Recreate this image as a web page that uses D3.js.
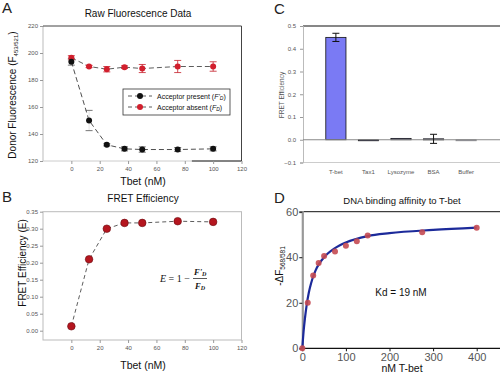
<!DOCTYPE html>
<html>
<head>
<meta charset="utf-8">
<script src="https://cdn.jsdelivr.net/npm/d3@7"></script>
<style>
  body { margin: 0; background: #fff; }
  svg { display: block; font-family: "Liberation Sans", Arial, sans-serif; }
  .tick text { fill: #555; }
</style>
</head>
<body>
<div id="chart"></div>
<script>
// Panel A data: raw donor fluorescence
var tbetConc = [0, 12.5, 25, 37.5, 50, 75, 100];
var presentVals = [193.5, 150, 132, 129, 128.5, 128.5, 129];
var presentErr = [2.5, 7.5, 0.8, 1.5, 2, 1.5, 1.5];
var absentVals = [196.5, 190, 188, 189.5, 188.5, 190, 190];
var absentErr = [1.5, 0.8, 2, 1, 3, 4.5, 3.5];

// Panel B data: FRET efficiency
var fretVals = [0.013, 0.21, 0.30, 0.317, 0.317, 0.322, 0.32];

// Panel C data: specificity bars
var proteins = ["T-bet", "Tax1", "Lysozyme", "BSA", "Buffer"];
var specVals = [0.45, -0.002, 0.006, 0.004, -0.004];
var specErr = [0.018, 0, 0, 0.02, 0];

// Panel D data: binding curve
var bindConc = [0, 12.5, 25, 37.5, 50, 75, 100, 125, 150, 275, 400];
var bindVals = [0, 20, 32, 37.5, 40.5, 42.5, 45, 47, 49.5, 51, 53];
var fitConc = [0, 3, 6, 10, 15, 20, 30, 40, 50, 75, 100, 150, 200, 300, 400];
var fitVals = [0, 7.5, 13, 19, 24.5, 28.5, 34, 37.5, 40, 44, 46.5, 49.3, 50.6, 52, 53];

var xTicks = [0, 20, 40, 60, 80, 100, 120];

var svg = d3.select("#chart")
  .append("svg")
  .attr("width", 500)
  .attr("height", 373);

// helper for panel letters
function letter(x, y, t) {
  svg.append("text")
    .attr("x", x).attr("y", y)
    .attr("font-size", "15px")
    .attr("fill", "#222")
    .text(t);
}

// ---------- Panel A ----------
var xA = d3.scaleLinear().domain([-20, 120]).range([43, 241.5]);
var yA = d3.scaleLinear().domain([120, 220]).range([161, 26]);

letter(2, 13, "A");
svg.append("text")
  .attr("x", 138).attr("y", 17)
  .attr("text-anchor", "middle")
  .attr("font-size", "10px")
  .attr("fill", "#111")
  .text("Raw Fluorescence Data");

// frame
svg.append("line").attr("x1", 43).attr("x2", 43).attr("y1", 26).attr("y2", 161).attr("stroke", "#bbb");
svg.append("line").attr("x1", 43).attr("x2", 241.5).attr("y1", 161).attr("y2", 161).attr("stroke", "#ccc");
svg.append("line").attr("x1", 43).attr("x2", 241.5).attr("y1", 26).attr("y2", 26).attr("stroke", "#444");
svg.append("line").attr("x1", 241.5).attr("x2", 241.5).attr("y1", 26).attr("y2", 161).attr("stroke", "#444");
svg.append("line").attr("x1", xA(85)).attr("x2", 241.5).attr("y1", 161).attr("y2", 161).attr("stroke", "#222");

var xAxisA = svg.append("g")
  .attr("transform", "translate(0,161)")
  .call(d3.axisBottom(xA).tickValues(xTicks).tickSize(3).tickPadding(3));
var yAxisA = svg.append("g")
  .attr("transform", "translate(43,0)")
  .call(d3.axisLeft(yA).tickValues([120, 140, 160, 180, 200, 220]).tickSize(3).tickPadding(2));
[xAxisA, yAxisA].forEach(function(g) {
  g.select(".domain").remove();
  g.selectAll(".tick line").attr("stroke", "#999");
  g.selectAll(".tick text").attr("font-size", "6px");
});

var lineA = d3.line().x((d, i) => xA(tbetConc[i])).y(d => yA(d));

svg.append("path")
  .attr("d", lineA(absentVals))
  .attr("fill", "none").attr("stroke", "#333").attr("stroke-width", 0.8)
  .attr("stroke-dasharray", "5,3");
svg.append("path")
  .attr("d", lineA(presentVals))
  .attr("fill", "none").attr("stroke", "#222").attr("stroke-width", 0.8)
  .attr("stroke-dasharray", "5,3");

// error bars: caps plus a stem
function errBars(vals, errs, color, stem) {
  vals.forEach(function(v, i) {
    if (!errs[i]) return;
    var x = xA(tbetConc[i]);
    svg.append("line").attr("x1", x).attr("x2", x)
      .attr("y1", yA(v - errs[i])).attr("y2", yA(v + errs[i]))
      .attr("stroke", stem).attr("stroke-width", 0.8);
    [v - errs[i], v + errs[i]].forEach(function(e) {
      svg.append("line").attr("x1", x - 3.5).attr("x2", x + 3.5)
        .attr("y1", yA(e)).attr("y2", yA(e))
        .attr("stroke", color).attr("stroke-width", 0.8);
    });
  });
}
errBars(absentVals, absentErr, "#c41e2a", "#c41e2a");
errBars(presentVals, presentErr, "#555", "#ddd");

svg.selectAll(".absentDot")
  .data(absentVals).enter()
  .append("circle")
  .attr("cx", (d, i) => xA(tbetConc[i]))
  .attr("cy", d => yA(d))
  .attr("r", 3)
  .attr("fill", "#d21f2d");
svg.selectAll(".presentDot")
  .data(presentVals).enter()
  .append("circle")
  .attr("cx", (d, i) => xA(tbetConc[i]))
  .attr("cy", d => yA(d))
  .attr("r", 3)
  .attr("fill", "#111");

// legend
svg.append("rect").attr("x", 123).attr("y", 89).attr("width", 107).attr("height", 26)
  .attr("fill", "#fff").attr("stroke", "#333").attr("stroke-width", 0.8);
[["#111", "Acceptor present (", "F'", "D", ")"], ["#d21f2d", "Acceptor absent (", "F", "D", ")"]].forEach(function(l, i) {
  var ly = 96 + i * 11;
  svg.append("line").attr("x1", 128).attr("x2", 152).attr("y1", ly).attr("y2", ly)
    .attr("stroke", "#333").attr("stroke-width", 0.8).attr("stroke-dasharray", "4,3");
  svg.append("circle").attr("cx", 140).attr("cy", ly).attr("r", 3).attr("fill", l[0]);
  var t = svg.append("text").attr("x", 157).attr("y", ly + 2.5).attr("font-size", "7px").attr("fill", "#111");
  t.append("tspan").text(l[1]);
  t.append("tspan").attr("font-style", "italic").text(l[2]);
  t.append("tspan").attr("font-style", "italic").attr("font-size", "5px").attr("dy", 1.5).text(l[3]);
  t.append("tspan").attr("dy", -1.5).text(l[4]);
});

// axis labels A
var ylA = svg.append("text")
  .attr("transform", "translate(16,95) rotate(-90)")
  .attr("text-anchor", "middle")
  .attr("font-size", "10px").attr("fill", "#111");
ylA.append("tspan").text("Donor Fluorescence (F");
ylA.append("tspan").attr("font-size", "6px").attr("dy", 2).text("453/521");
ylA.append("tspan").attr("dy", -2).text(")");
svg.append("text").attr("x", 143).attr("y", 185).attr("text-anchor", "middle")
  .attr("font-size", "10.5px").attr("fill", "#111").text("Tbet (nM)");

// ---------- Panel B ----------
var xB = d3.scaleLinear().domain([-20, 120]).range([43, 241.5]);
var yB = d3.scaleLinear().domain([0, 0.35]).range([330.7, 211.7]);

letter(2, 202, "B");
svg.append("text").attr("x", 143).attr("y", 202).attr("text-anchor", "middle")
  .attr("font-size", "10px").attr("fill", "#111").text("FRET Efficiency");

svg.append("rect").attr("x", 43).attr("y", 211.7).attr("width", 198.5).attr("height", 128.3)
  .attr("fill", "none").attr("stroke", "#bbb");

var xAxisB = svg.append("g")
  .attr("transform", "translate(0,340)")
  .call(d3.axisBottom(xB).tickValues(xTicks).tickSize(3).tickPadding(3));
var yAxisB = svg.append("g")
  .attr("transform", "translate(43,0)")
  .call(d3.axisLeft(yB).tickValues([0, 0.05, 0.1, 0.15, 0.2, 0.25, 0.3, 0.35])
    .tickFormat(d3.format(".2f")).tickSize(3).tickPadding(2));
[xAxisB, yAxisB].forEach(function(g) {
  g.select(".domain").remove();
  g.selectAll(".tick line").attr("stroke", "#999");
  g.selectAll(".tick text").attr("font-size", "6px");
});

svg.append("path")
  .attr("d", d3.line().x((d, i) => xB(tbetConc[i])).y(d => yB(d))(fretVals))
  .attr("fill", "none").attr("stroke", "#333").attr("stroke-width", 0.8)
  .attr("stroke-dasharray", "4,3");
svg.selectAll(".fretDot")
  .data(fretVals).enter()
  .append("circle")
  .attr("cx", (d, i) => xB(tbetConc[i]))
  .attr("cy", d => yB(d))
  .attr("r", 3.8)
  .attr("fill", "#b5161f").attr("stroke", "#6a0c10").attr("stroke-width", 0.6);

svg.append("text")
  .attr("transform", "translate(26,263) rotate(-90)")
  .attr("text-anchor", "middle")
  .attr("font-size", "10px").attr("fill", "#111")
  .text("FRET Efficiency (E)");
svg.append("text").attr("x", 143).attr("y", 369).attr("text-anchor", "middle")
  .attr("font-size", "10.5px").attr("fill", "#111").text("Tbet (nM)");

// formula E = 1 - F'D / FD
var fg = svg.append("g").attr("font-family", "'Liberation Serif', serif").attr("fill", "#111");
var lhs = fg.append("text").attr("x", 160).attr("y", 282).attr("font-size", "10px");
lhs.append("tspan").attr("font-style", "italic").text("E");
lhs.append("tspan").text(" = 1 \u2212");
fg.append("line").attr("x1", 193).attr("x2", 207).attr("y1", 278.5).attr("y2", 278.5)
  .attr("stroke", "#111").attr("stroke-width", 0.7);
var num = fg.append("text").attr("x", 194).attr("y", 275).attr("font-size", "8.5px")
  .attr("font-style", "italic").attr("font-weight", "bold");
num.append("tspan").text("F'");
num.append("tspan").attr("font-size", "6px").attr("dy", 1).text("D");
var den = fg.append("text").attr("x", 195).attr("y", 288.5).attr("font-size", "8.5px")
  .attr("font-style", "italic").attr("font-weight", "bold");
den.append("tspan").text("F");
den.append("tspan").attr("font-size", "6px").attr("dy", 1).text("D");

// ---------- Panel C ----------
var xC = d3.scaleBand().domain(proteins).range([303, 499]).paddingInner(0.38).paddingOuter(0.7);
var yC = d3.scaleLinear().domain([-0.1, 0.5]).range([162.5, 26]);

letter(274, 14, "C");

svg.append("line").attr("x1", 303).attr("x2", 500).attr("y1", 26).attr("y2", 26).attr("stroke", "#111").attr("stroke-width", 1.2);
svg.append("line").attr("x1", 303).attr("x2", 500).attr("y1", 162.5).attr("y2", 162.5).attr("stroke", "#ccc");

var yAxisC = svg.append("g")
  .attr("transform", "translate(303,0)")
  .call(d3.axisLeft(yC).tickValues([-0.1, 0, 0.1, 0.2, 0.3, 0.4, 0.5])
    .tickFormat(d3.format(".1f")).tickSize(3).tickPadding(4));
yAxisC.select(".domain").attr("stroke", "#bbb");
yAxisC.selectAll(".tick line").attr("stroke", "#999");
yAxisC.selectAll(".tick text").attr("font-size", "6px");

var xAxisC = svg.append("g")
  .attr("transform", "translate(0,162.5)")
  .call(d3.axisBottom(xC).tickSize(0).tickPadding(7));
xAxisC.select(".domain").remove();
xAxisC.selectAll(".tick text").attr("font-size", "6px");

svg.selectAll(".specBar")
  .data(specVals).enter()
  .append("rect")
  .attr("x", (d, i) => xC(proteins[i]))
  .attr("width", xC.bandwidth())
  .attr("y", d => yC(Math.max(0, d)))
  .attr("height", d => Math.max(1, Math.abs(yC(d) - yC(0))))
  .attr("fill", (d, i) => i == 0 ? "#7a7af4" : i == 4 ? "#a0a0c8" : "#6f6fc8")
  .attr("stroke", (d, i) => i == 4 ? "#888" : "#111")
  .attr("stroke-width", 0.8);

// zero line
svg.append("line").attr("x1", 303).attr("x2", 500).attr("y1", yC(0)).attr("y2", yC(0)).attr("stroke", "#888");

specVals.forEach(function(v, i) {
  if (!specErr[i]) return;
  var cx = xC(proteins[i]) + xC.bandwidth() / 2;
  svg.append("line").attr("x1", cx).attr("x2", cx).attr("y1", yC(v - specErr[i])).attr("y2", yC(v + specErr[i]))
    .attr("stroke", "#111");
  [v - specErr[i], v + specErr[i]].forEach(function(e) {
    svg.append("line").attr("x1", cx - 3.5).attr("x2", cx + 3.5).attr("y1", yC(e)).attr("y2", yC(e)).attr("stroke", "#111");
  });
});

svg.append("text")
  .attr("transform", "translate(284,95) rotate(-90)")
  .attr("text-anchor", "middle")
  .attr("font-size", "6.5px").attr("fill", "#555")
  .text("FRET Efficiency");

// ---------- Panel D ----------
var xD = d3.scaleLinear().domain([0, 400]).range([302.3, 476.7]);
var yD = d3.scaleLinear().domain([0, 60]).range([348.3, 211.7]);

letter(274, 203, "D");
svg.append("text").attr("x", 402).attr("y", 204).attr("text-anchor", "middle")
  .attr("font-size", "9.5px").attr("fill", "#111").text("DNA binding affinity to T-bet");

svg.append("line").attr("x1", 302.3).attr("x2", 500).attr("y1", 211.7).attr("y2", 211.7).attr("stroke", "#111");

var xAxisD = svg.append("g")
  .attr("transform", "translate(0,348.3)")
  .call(d3.axisBottom(xD).tickValues([0, 100, 200, 300, 400]).tickSize(3).tickPadding(2));
xAxisD.select(".domain").attr("d", "M302.3,0H500").attr("stroke", "#111").attr("stroke-width", 1.2);
var yAxisD = svg.append("g")
  .attr("transform", "translate(302.3,0)")
  .call(d3.axisLeft(yD).tickValues([0, 20, 40, 60]).tickSize(3).tickPadding(1));
yAxisD.select(".domain").attr("stroke", "#999").attr("stroke-width", 2.2);
[xAxisD, yAxisD].forEach(function(g) {
  g.selectAll(".tick line").attr("stroke", "#111");
  g.selectAll(".tick text").attr("font-size", "11px").attr("fill", "#111");
});

svg.append("path")
  .attr("d", d3.line().x((d, i) => xD(fitConc[i])).y(d => yD(d)).curve(d3.curveMonotoneX)(fitVals))
  .attr("fill", "none").attr("stroke", "#1c2a9a").attr("stroke-width", 2.2);

svg.selectAll(".bindDot")
  .data(bindVals).enter()
  .append("circle")
  .attr("cx", (d, i) => xD(bindConc[i]))
  .attr("cy", d => yD(d))
  .attr("r", 3)
  .attr("fill", "#c44a52").attr("fill-opacity", 0.9);

var ylD = svg.append("text")
  .attr("transform", "translate(283,266) rotate(-90)")
  .attr("text-anchor", "middle")
  .attr("font-size", "10px").attr("fill", "#111");
ylD.append("tspan").text("-ΔF");
ylD.append("tspan").attr("font-size", "6.5px").attr("dy", 2).text("568/581");

svg.append("text").attr("x", 401).attr("y", 296).attr("text-anchor", "middle")
  .attr("font-size", "10px").attr("fill", "#111").text("Kd = 19 nM");
svg.append("text").attr("x", 402).attr("y", 372).attr("text-anchor", "middle")
  .attr("font-size", "10.5px").attr("fill", "#111").text("nM T-bet");
</script>
</body>
</html>
